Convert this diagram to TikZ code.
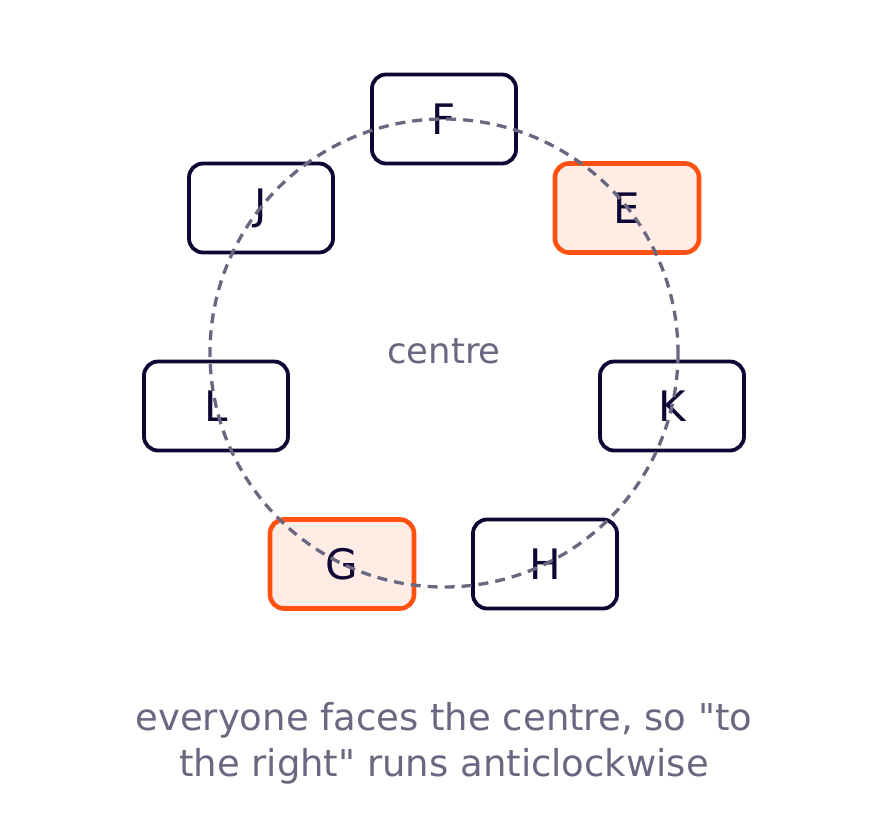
\documentclass[tikz,border=0pt]{standalone}
\usepackage{fontspec}
\setmainfont[Ligatures=TeXOff]{DejaVu Sans}
\definecolor{ink}{HTML}{0E0733}
\definecolor{hot}{HTML}{FF5210}
\definecolor{hotfill}{HTML}{FFECE5}
\definecolor{muted}{HTML}{6A6781}
\begin{document}
\begin{tikzpicture}[x=1pt,y=-1pt,
  seat/.style={draw=ink, line width=3.8pt, rounded corners=14pt, minimum width=144pt, minimum height=89pt, inner sep=0pt, text=ink, font=\fontsize{42}{50}\selectfont, fill=white},
  marked/.style={seat, draw=hot, line width=4.6pt, fill=hotfill},
  ring/.style={draw=muted, line width=3.3pt, dash pattern=on 10pt off 7pt}]
\useasboundingbox (0,0) rectangle (888,819);
\coordinate (O) at (444,353);
\node[seat]   (F) at (444,119) {F};
\node[marked] (E) at (627,208) {E};
\node[seat]   (K) at (672,406) {K};
\node[seat]   (H) at (545,564) {H};
\node[marked] (G) at (342,564) {G};
\node[seat]   (L) at (216,406) {L};
\node[seat]   (J) at (261,208) {J};
\draw[ring] (O) circle[radius=234];
\node[text=muted, font=\fontsize{35.5}{42}\selectfont] (c) at (444,351) {centre};
\node[text=muted, font=\fontsize{37}{46}\selectfont, align=center] (cap) at (444,743) {everyone faces the centre, so "to\\the right" runs anticlockwise};
\end{tikzpicture}
\end{document}
